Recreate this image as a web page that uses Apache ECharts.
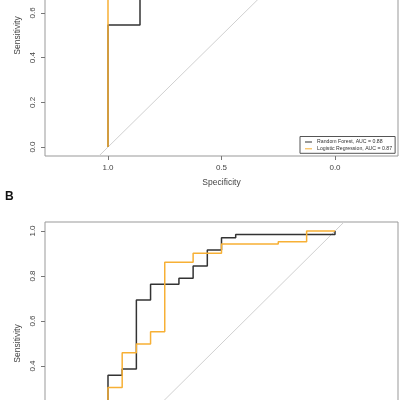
<!DOCTYPE html>
<html><head><meta charset="utf-8">
<script src="https://cdn.jsdelivr.net/npm/echarts@6/dist/echarts.min.js"></script>
<style>html,body{margin:0;padding:0;background:#fff;overflow:hidden;width:400px;height:400px}#c{position:absolute;left:0;top:-90px;width:400px;height:560px}</style>
</head><body><div id="c"></div>
<script>
// Panel A (top, cropped)
const specA_RF = [1, 1, 0.859, 0.859, 0.72, 0.72, 0.5, 0.5, 0.2, 0.2, 0];
const sensA_RF = [0, 0.546, 0.546, 0.78, 0.78, 0.90, 0.90, 0.97, 0.97, 1, 1];
const specA_LR = [1, 1, 0.86, 0.86, 0.6, 0.6, 0.3, 0.3, 0];
const sensA_LR = [0, 0.70, 0.70, 0.86, 0.86, 0.95, 0.95, 1, 1];
// Panel B
const specB_RF = [1, 1, 0.9375, 0.9375, 0.875, 0.875, 0.8125, 0.8125, 0.6875, 0.6875, 0.625, 0.625, 0.5625, 0.5625, 0.5, 0.5, 0.4375, 0.4375, 0, 0];
const sensB_RF = [0, 0.359, 0.359, 0.387, 0.387, 0.693, 0.693, 0.763, 0.763, 0.790, 0.790, 0.844, 0.844, 0.916, 0.916, 0.970, 0.970, 0.984, 0.984, 1];
const specB_LR = [1, 1, 0.9375, 0.9375, 0.875, 0.875, 0.8125, 0.8125, 0.75, 0.75, 0.625, 0.625, 0.5, 0.5, 0.25, 0.25, 0.125, 0.125, 0];
const sensB_LR = [0, 0.305, 0.305, 0.459, 0.459, 0.498, 0.498, 0.552, 0.552, 0.861, 0.861, 0.901, 0.901, 0.942, 0.942, 0.952, 0.952, 1, 1];
const diagSpec = [1.04, -0.04];
const diagSens = [-0.04, 1.04];
const xTicks = [0, 0.5, 1];
const yTicks = [0, 0.2, 0.4, 0.6, 0.8, 1];
const legendNames = ['Random Forest, AUC = 0.88', 'Logistic Regression, AUC = 0.87'];

const OFF = 90; // the page shows the canvas shifted up by this many pixels
const zip = (a, b) => a.map((v, i) => [v, b[i]]);
const BLACK = '#333333', ORANGE = '#F7B035', GRAY = '#999999', TXT = '#444444';

function xAx(gi, showLabels) {
  return {
    type: 'value', gridIndex: gi, min: -0.2775, max: 1.2775, inverse: true, position: 'bottom',
    axisLine: { show: false, onZero: false }, splitLine: { show: false },
    axisTick: { show: showLabels, customValues: xTicks, length: 4, lineStyle: { color: '#777' } },
    axisLabel: { show: showLabels, customValues: xTicks, fontSize: 8, color: TXT, margin: 8,
      fontFamily: 'Liberation Sans', formatter: v => v.toFixed(1) }
  };
}
function yAx(gi) {
  return {
    type: 'value', gridIndex: gi, min: -0.04, max: 1.04, position: 'left',
    axisLine: { show: false, onZero: false }, splitLine: { show: false },
    axisTick: { customValues: yTicks, length: 4, lineStyle: { color: '#777' } },
    axisLabel: { customValues: yTicks, fontSize: 8, color: TXT, rotate: 90, margin: 8,
      fontFamily: 'Liberation Sans', formatter: v => v.toFixed(1) }
  };
}
function line(name, data, color, xi, w) {
  return { name, type: 'line', xAxisIndex: xi, yAxisIndex: xi, data, symbol: 'none',
    lineStyle: { color, width: w }, itemStyle: { color }, silent: true, animation: false, clip: true };
}

const chart = echarts.init(document.getElementById('c'), null, { renderer: 'canvas' });
chart.setOption({
  animation: false,
  backgroundColor: '#fff',
  grid: [
    { left: 45, width: 353, top: OFF - 85.4, height: 241.4, show: true, borderColor: GRAY, borderWidth: 1, backgroundColor: 'transparent' },
    { left: 45, width: 353, top: OFF + 222, height: 243, show: true, borderColor: GRAY, borderWidth: 1, backgroundColor: 'transparent' }
  ],
  xAxis: [xAx(0, true), xAx(1, false)],
  yAxis: [yAx(0), yAx(1)],
  legend: {
    data: legendNames, left: 300, top: OFF + 136.5, orient: 'vertical', itemGap: 1.8,
    padding: [3, 3, 2, 5], borderColor: '#555', borderWidth: 1, backgroundColor: '#fff',
    icon: 'rect', itemWidth: 7, itemHeight: 1,
    textStyle: { fontSize: 5.2, color: '#333', fontFamily: 'Liberation Sans' },
    selectedMode: false
  },
  series: [
    line('diagA', zip(diagSpec, diagSens), '#d0d0d0', 0, 1),
    line('diagB', zip(diagSpec, diagSens), '#d0d0d0', 1, 1),
    line(legendNames[0], zip(specA_RF, sensA_RF), BLACK, 0, 1.5),
    line(legendNames[1], zip(specA_LR, sensA_LR), ORANGE, 0, 1.5),
    line('RF B', zip(specB_RF, sensB_RF), BLACK, 1, 1.5),
    line('LR B', zip(specB_LR, sensB_LR), ORANGE, 1, 1.5)
  ],
  graphic: [
    { type: 'text', x: 221.5, y: OFF + 183, style: { text: 'Specificity', fontSize: 8.5, fill: TXT, fontFamily: 'Liberation Sans', align: 'center', verticalAlign: 'middle' } },
    { type: 'text', x: 18, y: OFF + 35.5, rotation: Math.PI / 2, style: { text: 'Sensitivity', fontSize: 8.5, fill: TXT, fontFamily: 'Liberation Sans', align: 'center', verticalAlign: 'middle' } },
    { type: 'text', x: 18, y: OFF + 343.5, rotation: Math.PI / 2, style: { text: 'Sensitivity', fontSize: 8.5, fill: TXT, fontFamily: 'Liberation Sans', align: 'center', verticalAlign: 'middle' } },
    { type: 'text', x: 5, y: OFF + 197, style: { text: 'B', fontSize: 12, fontWeight: 'bold', fill: '#111', fontFamily: 'Liberation Sans', align: 'left', verticalAlign: 'middle' } }
  ]
});
</script></body></html>
